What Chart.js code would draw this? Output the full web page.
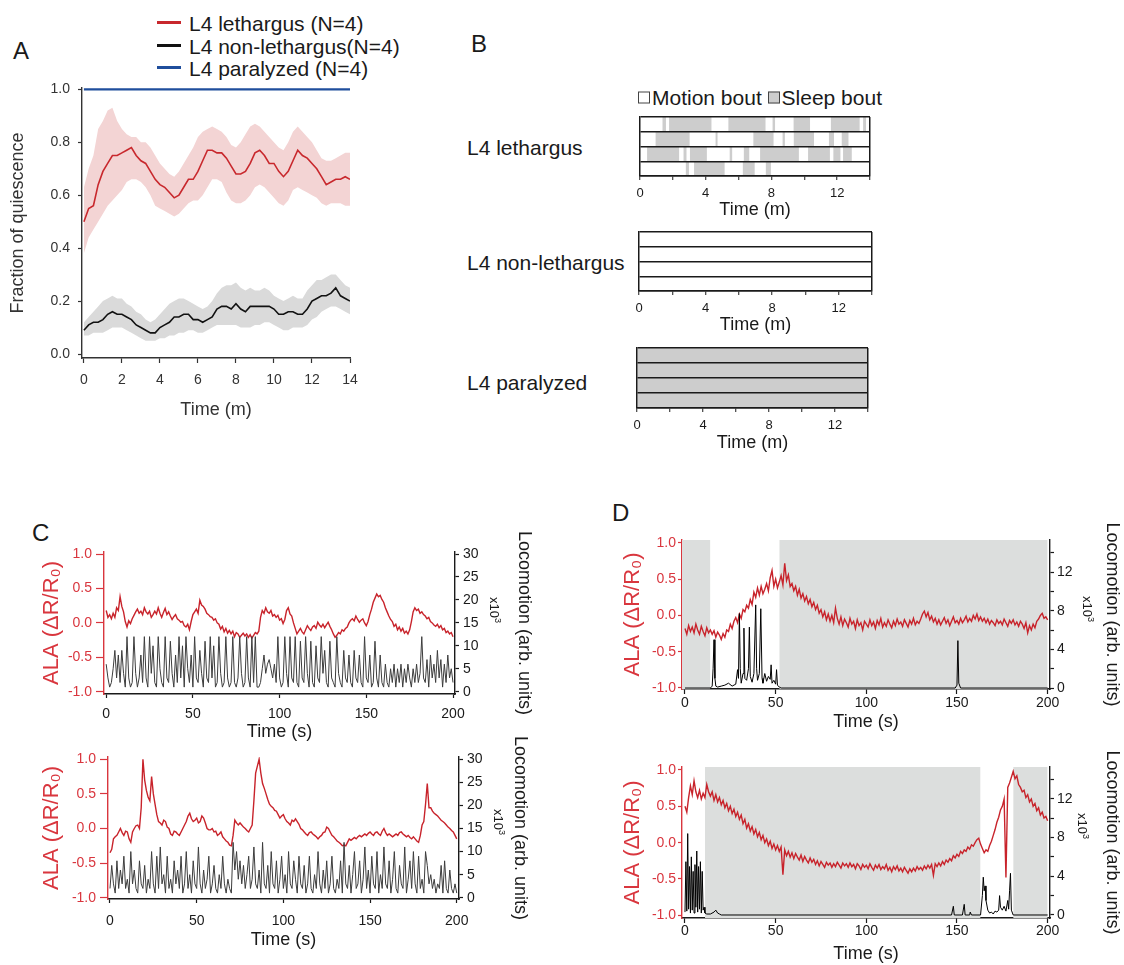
<!DOCTYPE html>
<html lang="en">
  <head>
    <meta charset="UTF-8" />
    <title>Quiescence and ALA activity</title>
    <script src="https://cdn.jsdelivr.net/npm/chart.js@4.4.1/dist/chart.umd.min.js"></script>
    <style>
      body {
        margin: 0;
        background: #fff;
        font-family: "Liberation Sans", Arial, Helvetica, sans-serif;
        color: #1a1a1a;
      }
      #page {
        position: relative;
        width: 1124px;
        height: 965px;
        overflow: hidden;
      }
      canvas {
        position: absolute;
      }
      .t {
        position: absolute;
        white-space: nowrap;
        line-height: 1;
        transform: translateY(-50%);
      }
      .letter {
        font-size: 24px;
      }
      .lbl {
        font-size: 21px;
      }
      .key {
        position: absolute;
        width: 24px;
        height: 0;
        border-top: 3px solid;
      }
      .sq {
        display: inline-block;
        width: 10px;
        height: 10px;
        border: 1px solid #444;
        margin-right: 2px;
        vertical-align: 1px;
      }
      .exp {
        position: absolute;
        font-size: 13px;
        white-space: nowrap;
        line-height: 1;
        transform: translate(-50%, -50%) rotate(90deg);
      }
      .exp sup {
        font-size: 9px;
      }
    </style>
  </head>
  <body>
    <div id="page">
      <!-- panel letters -->
      <div class="t letter" style="left: 13px; top: 51px">A</div>
      <div class="t letter" style="left: 471px; top: 44px">B</div>
      <div class="t letter" style="left: 32px; top: 533px">C</div>
      <div class="t letter" style="left: 612px; top: 513px">D</div>

      <!-- legend A -->
      <div class="key" style="left: 157px; top: 21px; border-color: #c8282d"></div>
      <div class="t lbl" style="left: 189px; top: 23px">L4 lethargus (N=4)</div>
      <div class="key" style="left: 157px; top: 44px; border-color: #111"></div>
      <div class="t lbl" style="left: 189px; top: 46px">L4 non-lethargus(N=4)</div>
      <div class="key" style="left: 157px; top: 66px; border-color: #1f4e9c"></div>
      <div class="t lbl" style="left: 189px; top: 68px">L4 paralyzed (N=4)</div>

      <!-- legend B + row labels -->
      <div class="t lbl" style="left: 638px; top: 97px">
        <span class="sq" style="background: #fff"></span>Motion bout&nbsp;<span class="sq" style="background: #cdcdcd"></span>Sleep bout
      </div>
      <div class="t lbl" style="left: 467px; top: 147px">L4 lethargus</div>
      <div class="t lbl" style="left: 467px; top: 262px">L4 non-lethargus</div>
      <div class="t lbl" style="left: 467px; top: 382px">L4 paralyzed</div>

      <canvas id="chartA" width="400" height="360" style="left: 0; top: 70px"></canvas>
      <canvas id="rasterLeth" width="300" height="112" style="left: 600px; top: 110px"></canvas>
      <canvas id="rasterNon" width="300" height="112" style="left: 600px; top: 225px"></canvas>
      <canvas id="rasterPara" width="300" height="114" style="left: 600px; top: 341px"></canvas>
      <canvas id="chartC1" width="560" height="230" style="left: 0; top: 520px"></canvas>
      <canvas id="chartC2" width="560" height="240" style="left: 0; top: 725px"></canvas>
      <canvas id="chartD1" width="564" height="240" style="left: 560px; top: 510px"></canvas>
      <canvas id="chartD2" width="564" height="225" style="left: 560px; top: 740px"></canvas>

      <div class="exp" style="left: 495px; top: 610px">x10<sup>3</sup></div>
      <div class="exp" style="left: 499px; top: 822px">x10<sup>3</sup></div>
      <div class="exp" style="left: 1088px; top: 609px">x10<sup>3</sup></div>
      <div class="exp" style="left: 1083px; top: 826px">x10<sup>3</sup></div>
    </div>

    <script>
      // ---------- A: fraction of quiescence (time in minutes) ----------
      const aTime = [0, 0.25, 0.5, 0.75, 1, 1.25, 1.5, 1.75, 2, 2.25, 2.5, 2.75, 3, 3.25, 3.5, 3.75, 4, 4.25, 4.5, 4.75,
        5, 5.25, 5.5, 5.75, 6, 6.25, 6.5, 6.75, 7, 7.25, 7.5, 7.75, 8, 8.25, 8.5, 8.75, 9, 9.25, 9.5, 9.75,
        10, 10.25, 10.5, 10.75, 11, 11.25, 11.5, 11.75, 12, 12.25, 12.5, 12.75, 13, 13.25, 13.5, 13.75, 14];
      const lethMean = [0.50, 0.55, 0.56, 0.64, 0.69, 0.72, 0.75, 0.75, 0.76, 0.77, 0.78, 0.75, 0.73, 0.72, 0.69, 0.66, 0.64, 0.63, 0.61, 0.59,
        0.60, 0.63, 0.66, 0.66, 0.69, 0.73, 0.77, 0.77, 0.76, 0.76, 0.74, 0.71, 0.68, 0.68, 0.69, 0.72, 0.76, 0.77, 0.75, 0.72,
        0.72, 0.69, 0.67, 0.69, 0.73, 0.77, 0.75, 0.74, 0.72, 0.70, 0.67, 0.64, 0.65, 0.66, 0.66, 0.67, 0.66];
      const lethUpper = [0.63, 0.70, 0.75, 0.85, 0.88, 0.92, 0.93, 0.88, 0.85, 0.83, 0.82, 0.82, 0.80, 0.80, 0.78, 0.75, 0.72, 0.70, 0.68, 0.67,
        0.69, 0.72, 0.75, 0.78, 0.82, 0.84, 0.85, 0.86, 0.85, 0.84, 0.82, 0.79, 0.78, 0.80, 0.83, 0.86, 0.87, 0.86, 0.84, 0.82,
        0.80, 0.78, 0.77, 0.80, 0.84, 0.86, 0.84, 0.82, 0.80, 0.77, 0.74, 0.73, 0.73, 0.74, 0.75, 0.76, 0.76];
      const lethLower = [0.38, 0.44, 0.47, 0.50, 0.53, 0.56, 0.58, 0.60, 0.62, 0.65, 0.66, 0.66, 0.65, 0.63, 0.60, 0.56, 0.55, 0.54, 0.53, 0.52,
        0.53, 0.55, 0.57, 0.58, 0.58, 0.60, 0.63, 0.66, 0.66, 0.65, 0.61, 0.58, 0.57, 0.57, 0.58, 0.60, 0.63, 0.64, 0.63, 0.61,
        0.59, 0.57, 0.56, 0.58, 0.62, 0.63, 0.62, 0.61, 0.60, 0.59, 0.57, 0.56, 0.57, 0.57, 0.57, 0.56, 0.56];
      const nonMean = [0.09, 0.11, 0.12, 0.12, 0.13, 0.15, 0.16, 0.15, 0.15, 0.14, 0.13, 0.11, 0.10, 0.09, 0.08, 0.08, 0.10, 0.11, 0.12, 0.14,
        0.14, 0.15, 0.15, 0.13, 0.13, 0.12, 0.13, 0.14, 0.17, 0.18, 0.18, 0.17, 0.19, 0.17, 0.16, 0.18, 0.18, 0.18, 0.18, 0.18,
        0.17, 0.15, 0.15, 0.16, 0.16, 0.15, 0.15, 0.17, 0.20, 0.21, 0.22, 0.22, 0.23, 0.25, 0.22, 0.21, 0.20];
      const nonUpper = [0.12, 0.14, 0.16, 0.18, 0.20, 0.21, 0.22, 0.21, 0.21, 0.19, 0.18, 0.16, 0.15, 0.13, 0.12, 0.13, 0.15, 0.17, 0.19, 0.20,
        0.21, 0.21, 0.20, 0.19, 0.18, 0.17, 0.18, 0.20, 0.23, 0.25, 0.26, 0.26, 0.27, 0.25, 0.24, 0.25, 0.24, 0.24, 0.25, 0.24,
        0.22, 0.21, 0.20, 0.21, 0.22, 0.21, 0.21, 0.24, 0.26, 0.28, 0.28, 0.29, 0.30, 0.30, 0.28, 0.26, 0.25];
      const nonLower = [0.07, 0.07, 0.08, 0.08, 0.08, 0.09, 0.10, 0.10, 0.10, 0.09, 0.08, 0.07, 0.06, 0.05, 0.05, 0.05, 0.06, 0.06, 0.07, 0.07,
        0.08, 0.08, 0.09, 0.09, 0.08, 0.08, 0.09, 0.10, 0.11, 0.11, 0.11, 0.11, 0.11, 0.10, 0.10, 0.10, 0.11, 0.11, 0.12, 0.12,
        0.11, 0.10, 0.09, 0.09, 0.10, 0.10, 0.10, 0.11, 0.13, 0.14, 0.16, 0.17, 0.18, 0.18, 0.17, 0.16, 0.15];
      const paraTime = [0, 14];
      const paraMean = [1.0, 1.0];
      const minuteTicks = [0, 2, 4, 6, 8, 10, 12, 14];
      const fractionTicks = [0, 0.2, 0.4, 0.6, 0.8, 1.0];

      // ---------- B: motion / sleep bouts per worm (minutes) ----------
      const rowLabels = ["1", "2", "3", "4"];
      const lethRow1 = [[1.39, 1.56], [1.79, 4.33], [5.40, 7.62], [8.09, 8.20], [9.37, 10.33], [11.64, 13.35], [13.60, 13.74]];
      const lethRow2 = [[0.97, 3.00], [4.62, 4.70], [6.92, 8.11], [8.70, 8.80], [9.38, 10.57], [11.52, 11.79], [12.30, 12.67]];
      const lethRow3 = [[0.45, 2.36], [2.67, 2.81], [3.06, 4.05], [5.48, 5.59], [6.34, 6.63], [7.33, 9.65], [10.25, 11.54], [11.79, 12.18], [12.38, 12.87]];
      const lethRow4 = [[2.81, 2.96], [3.31, 5.13], [6.28, 6.96], [7.68, 7.95]];
      const nonRows = [[], [], [], []];
      const paraRows = [[[0, 14]], [[0, 14]], [[0, 14]], [[0, 14]]];
      const boutTicks = [0, 2, 4, 6, 8, 10, 12, 14];

      // ---------- C / D: ALA imaging and locomotion (seconds) ----------
      const seconds = Array.from({ length: 201 }, (_, i) => i);
      const secTicks = [0, 50, 100, 150, 200];
      const alaTicks = [-1, -0.5, 0, 0.5, 1];
      const locoTicksC = [0, 5, 10, 15, 20, 25, 30];
      const locoTicksD = [0, 2, 4, 6, 8, 10, 12, 14];

      const cTopAla = [
        0.18, 0.08, 0.12, 0.06, 0.14, 0.08, 0.22, 0.18, 0.38, 0.24,
        0.16, 0.02, -0.06, 0.03, -0.01, 0.06, 0.11, 0.16, 0.20, 0.14,
        0.17, 0.12, 0.22, 0.16, 0.13, 0.17, 0.08, 0.12, 0.17, 0.13,
        0.22, 0.14, 0.08, 0.15, 0.21, 0.12, 0.16, 0.10, 0.05, 0.09,
        0.12, 0.06, 0.04, 0.01, 0.02, -0.04, -0.06, -0.02, -0.10, 0.02,
        0.12, 0.16, 0.20, 0.14, 0.33, 0.26, 0.24, 0.20, 0.14, 0.12,
        0.09, 0.08, 0.04, 0.06, 0.00, -0.02, -0.09, -0.05, -0.13, -0.08,
        -0.15, -0.11, -0.16, -0.12, -0.20, -0.14, -0.16, -0.21, -0.18, -0.15,
        -0.19, -0.16, -0.21, -0.17, -0.22, -0.18, -0.14, -0.16, -0.12, 0.08,
        0.18, 0.14, 0.22, 0.16, 0.14, 0.18, 0.10, 0.12, 0.08, 0.11,
        0.04, 0.06, -0.01, 0.05, 0.18, 0.22, 0.13, 0.10, 0.00, -0.08,
        -0.16, -0.12, -0.08, -0.13, -0.16, -0.10, -0.04, -0.08, -0.11, -0.06,
        -0.04, -0.08, 0.01, -0.03, -0.06, -0.02, -0.07, -0.03, 0.01, -0.05,
        -0.10, -0.16, -0.21, -0.18, -0.14, -0.16, -0.10, -0.12, -0.08, -0.06,
        0.00, 0.04, 0.06, 0.03, 0.10, 0.05, 0.01, 0.04, 0.06, 0.00,
        -0.04, 0.02, 0.12, 0.20, 0.30, 0.36, 0.42, 0.38, 0.40, 0.34,
        0.30, 0.22, 0.16, 0.10, 0.05, 0.02, -0.05, -0.02, -0.10, -0.06,
        -0.12, -0.08, -0.15, -0.12, -0.16, -0.10, 0.02, 0.16, 0.22, 0.18,
        0.20, 0.14, 0.16, 0.12, 0.10, 0.06, 0.08, 0.02, 0.00, -0.03,
        -0.05, -0.02, -0.07, -0.04, -0.10, -0.08, -0.14, -0.12, -0.16, -0.14,
        -0.20];
      const cTopLoco = [
        6, 3, 1, 2, 5, 9, 3, 8, 2, 9,
        4, 1, 12, 3, 1, 2, 12, 4, 1, 3,
        8, 2, 12, 3, 1, 12, 4, 10, 2, 1,
        12, 5, 2, 1, 12, 3, 2, 11, 4, 1,
        8, 2, 12, 3, 10, 1, 12, 5, 2, 8,
        1, 12, 3, 2, 9, 4, 1, 11, 3, 2,
        12, 3, 10, 1, 2, 12, 4, 1, 2, 12,
        3, 1, 2, 12, 2, 1, 3, 12, 4, 1,
        2, 12, 3, 1, 12, 2, 12, 1, 1, 2,
        5, 8, 4, 6, 7, 5, 3, 6, 2, 12,
        3, 1, 2, 12, 4, 1, 12, 3, 2, 12,
        2, 1, 11, 3, 2, 12, 4, 1, 11, 2,
        1, 10, 3, 2, 12, 4, 9, 2, 1, 11,
        3, 2, 1, 12, 4, 2, 1, 9, 3, 2,
        8, 2, 1, 9, 3, 2, 8, 2, 1, 12,
        3, 2, 8, 1, 2, 11, 3, 1, 8, 2,
        1, 6, 2, 1, 5, 2, 6, 1, 5, 2,
        6, 1, 5, 2, 6, 3, 1, 5, 2, 6,
        2, 4, 12, 3, 2, 7, 1, 8, 3, 6,
        2, 9, 3, 7, 1, 6, 2, 8, 3, 5,
        2];
      const cBotAla = [
        -0.35, -0.30, -0.15, -0.12, -0.10, -0.05, 0.00, -0.06, -0.10, -0.04,
        -0.05, -0.15, -0.20, -0.05, 0.00, 0.04, 0.05, 0.00, 0.30, 1.00,
        0.70, 0.55, 0.45, 0.40, 0.75, 0.50, 0.35, 0.20, 0.10, 0.08,
        0.05, 0.12, 0.10, 0.02, 0.00, -0.08, -0.10, -0.04, -0.05, -0.08,
        -0.10, -0.05, 0.00, 0.05, 0.10, 0.18, 0.22, 0.14, 0.10, 0.12,
        0.15, 0.08, 0.10, 0.18, 0.15, 0.08, 0.00, -0.02, -0.02, 0.00,
        -0.05, -0.04, -0.10, -0.08, -0.05, -0.12, -0.15, -0.18, -0.20, -0.24,
        -0.25, -0.10, 0.12, 0.08, 0.05, 0.08, 0.05, 0.02, 0.00, -0.03,
        -0.05, 0.00, 0.05, 0.40, 0.80, 0.90, 1.00, 0.80, 0.65, 0.58,
        0.50, 0.42, 0.35, 0.32, 0.30, 0.26, 0.25, 0.20, 0.15, 0.18,
        0.20, 0.14, 0.10, 0.08, 0.05, 0.12, 0.10, 0.14, 0.10, 0.06,
        0.00, -0.02, -0.05, -0.08, -0.10, -0.06, -0.05, -0.08, -0.10, -0.12,
        -0.15, -0.12, -0.10, -0.06, -0.05, 0.02, 0.00, -0.05, -0.10, -0.12,
        -0.15, -0.18, -0.20, -0.22, -0.25, -0.24, -0.25, -0.20, -0.15, -0.17,
        -0.15, -0.13, -0.15, -0.12, -0.10, -0.12, -0.10, -0.08, -0.10, -0.07,
        -0.05, -0.08, -0.10, -0.06, -0.05, -0.08, -0.10, -0.04, 0.00, -0.06,
        -0.10, -0.08, -0.10, -0.12, -0.10, -0.08, -0.10, -0.06, -0.05, -0.08,
        -0.10, -0.12, -0.10, -0.13, -0.15, -0.12, -0.15, -0.18, -0.20, -0.10,
        0.05, 0.10, 0.35, 0.65, 0.30, 0.30, 0.25, 0.22, 0.20, 0.18,
        0.15, 0.12, 0.10, 0.08, 0.05, 0.02, 0.00, -0.03, -0.05, -0.10,
        -0.15];
      const cBotLoco = [
        2, 7, 3, 1, 8, 2, 6, 3, 9, 2,
        4, 1, 10, 3, 6, 2, 1, 8, 3, 2,
        7, 1, 4, 2, 10, 3, 1, 9, 2, 11,
        3, 5, 1, 9, 2, 4, 1, 8, 3, 6,
        2, 9, 1, 3, 10, 2, 5, 1, 8, 3,
        2, 11, 3, 1, 6, 2, 4, 9, 1, 3,
        7, 2, 1, 5, 2, 9, 3, 1, 4, 2,
        1, 12, 6, 10, 4, 8, 3, 7, 2, 5,
        9, 2, 4, 11, 3, 2, 6, 1, 12, 3,
        2, 7, 1, 10, 3, 2, 8, 1, 4, 9,
        2, 5, 1, 10, 3, 2, 8, 4, 1, 9,
        3, 2, 7, 1, 3, 9, 2, 1, 5, 2,
        10, 3, 1, 6, 2, 8, 1, 3, 9, 2,
        1, 4, 2, 8, 1, 12, 3, 2, 7, 1,
        5, 10, 2, 3, 8, 1, 4, 11, 2, 6,
        1, 9, 3, 2, 10, 1, 5, 2, 11, 3,
        2, 8, 1, 4, 10, 2, 1, 7, 3, 2,
        11, 1, 4, 8, 2, 10, 3, 1, 9, 2,
        4, 1, 10, 7, 3, 5, 2, 4, 1, 3,
        2, 7, 1, 8, 2, 1, 6, 2, 1, 3,
        1];
      const dTopAla = [
        -0.18, -0.26, -0.14, -0.22, -0.16, -0.24, -0.12, -0.20, -0.26, -0.15,
        -0.22, -0.28, -0.17, -0.24, -0.20, -0.26, -0.21, -0.30, -0.23, -0.27,
        -0.33, -0.25, -0.30, -0.20, -0.22, -0.12, -0.18, -0.08, -0.03, -0.10,
        0.02, -0.04, 0.08, 0.05, 0.14, 0.10, 0.22, 0.15, 0.32, 0.25,
        0.38, 0.28, 0.40, 0.30, 0.36, 0.44, 0.34, 0.52, 0.62, 0.40,
        0.50, 0.38, 0.46, 0.55, 0.42, 0.72, 0.48, 0.56, 0.40, 0.44,
        0.34, 0.40, 0.28, 0.36, 0.24, 0.30, 0.20, 0.26, 0.16, 0.22,
        0.12, 0.18, 0.08, 0.14, 0.03, 0.08, -0.02, 0.05, -0.06, 0.02,
        -0.08, 0.00, -0.10, 0.10, -0.04, -0.12, -0.02, -0.14, -0.05, -0.10,
        -0.16, -0.04, -0.12, -0.08, -0.18, -0.06, -0.14, -0.10, -0.20, -0.08,
        -0.12, -0.16, -0.06, -0.14, -0.09, -0.18, -0.07, -0.13, -0.04, -0.16,
        -0.10, -0.15, -0.06, -0.12, -0.17, -0.08, -0.14, -0.05, -0.12, -0.09,
        -0.15, -0.06, -0.11, -0.16, -0.07, -0.12, -0.04, -0.13, -0.08, -0.11,
        -0.05, 0.02, 0.06, -0.02, 0.04, -0.06, -0.01, -0.09, -0.04, -0.12,
        -0.06, -0.13, -0.08, -0.03, -0.11, -0.06, -0.14, -0.08, -0.02, -0.10,
        -0.07, -0.12, -0.04, -0.10, -0.06, -0.01, -0.09, -0.04, -0.08, 0.00,
        -0.05, 0.02, -0.07, -0.02, -0.08, -0.04, -0.10, -0.05, -0.12, -0.07,
        -0.10, -0.14, -0.06, -0.11, -0.08, -0.13, -0.05, -0.10, -0.15, -0.07,
        -0.11, -0.06, -0.13, -0.09, -0.15, -0.08, -0.12, -0.18, -0.10, -0.24,
        -0.14, -0.20, -0.12, -0.17, -0.08, -0.05, 0.00, 0.03, -0.04, -0.02,
        -0.06];
      const dTopLocoT = [0, 14, 15, 15.5, 16, 16.5, 17, 18, 20, 22, 24, 26, 28, 29, 29.5, 30, 30.5, 31, 32, 32.5,
        33, 34, 35, 35.5, 36, 37, 38, 39, 39.5, 40, 41, 41.8, 42.5, 43, 44, 45, 46, 47, 47.5, 48,
        49, 50, 50.5, 51, 52, 53, 149, 150, 150.5, 151, 152, 200];
      const dTopLocoV = [0, 0, 0.2, 2, 5, 1, 0.2, 0.1, 0.2, 0.3, 0.5, 0.2, 0.4, 1.9, 1, 7.7, 2, 0.5, 1.5, 6.2,
        1, 0.8, 2, 6.3, 1.2, 0.6, 1.5, 8.6, 2, 0.8, 1.5, 8.2, 1, 0.5, 1.5, 0.7, 1.2, 0.9, 2.4, 0.5,
        0.8, 0.4, 1.9, 0.3, 0.1, 0, 0, 0.3, 4.9, 0.5, 0, 0];
      const dTopSleepStart = [-1.65, 52];
      const dTopSleepEnd = [14, 200];

      const dBotAla = [
        0.50, 0.42, 0.62, 0.78, 0.66, 0.85, 0.70, 0.62, 0.72, 0.60,
        0.68, 0.62, 0.80, 0.70, 0.64, 0.70, 0.58, 0.66, 0.56, 0.62,
        0.52, 0.58, 0.48, 0.54, 0.44, 0.50, 0.40, 0.46, 0.36, 0.42,
        0.32, 0.38, 0.26, 0.32, 0.20, 0.26, 0.16, 0.22, 0.12, 0.18,
        0.08, 0.14, 0.04, 0.10, 0.00, 0.05, -0.04, 0.02, -0.08, -0.02,
        -0.10, -0.04, -0.12, -0.06, -0.44, -0.10, -0.18, -0.12, -0.20, -0.14,
        -0.22, -0.15, -0.20, -0.24, -0.17, -0.26, -0.19, -0.24, -0.28, -0.21,
        -0.27, -0.23, -0.30, -0.25, -0.32, -0.26, -0.30, -0.34, -0.27, -0.31,
        -0.28, -0.34, -0.29, -0.33, -0.27, -0.31, -0.35, -0.28, -0.32, -0.29,
        -0.34, -0.28, -0.33, -0.30, -0.36, -0.29, -0.32, -0.37, -0.30, -0.34,
        -0.31, -0.36, -0.29, -0.34, -0.38, -0.31, -0.35, -0.30, -0.37, -0.33,
        -0.36, -0.30, -0.38, -0.34, -0.40, -0.33, -0.37, -0.32, -0.39, -0.35,
        -0.40, -0.34, -0.38, -0.42, -0.36, -0.40, -0.35, -0.39, -0.33, -0.37,
        -0.34, -0.38, -0.32, -0.36, -0.31, -0.35, -0.30, -0.45, -0.29, -0.33,
        -0.28, -0.32, -0.26, -0.30, -0.24, -0.27, -0.22, -0.25, -0.18, -0.21,
        -0.16, -0.19, -0.12, -0.15, -0.10, -0.12, -0.06, -0.09, -0.03, -0.05,
        0.00, 0.04, 0.06, -0.02, -0.08, -0.14, -0.10, -0.12, -0.04, 0.02,
        0.10, 0.18, 0.28, 0.35, 0.45, 0.50, 0.60, -0.48, 0.76, 0.82,
        0.90, 0.98, 0.88, 0.92, 0.80, 0.76, 0.70, 0.72, 0.62, 0.66,
        0.56, 0.60, 0.50, 0.54, 0.44, 0.48, 0.38, 0.42, 0.34, 0.36,
        0.30];
      const dBotLocoT = [0, 0.5, 1, 1.5, 2, 2.5, 3, 3.5, 4, 4.5, 5, 5.5, 6, 6.5, 7, 7.5, 8, 8.5, 9, 9.5,
        10, 10.5, 11, 12, 14, 16, 17, 18, 19, 20, 147, 148, 148.5, 153, 154, 154.5, 157, 157.3, 158, 163,
        164, 164.5, 165, 165.5, 166, 167, 168, 169, 170, 171, 172, 173, 173.5, 174, 175, 176, 177, 178, 178.5, 179,
        179.5, 180, 181, 200];
      const dBotLocoV = [0.3, 5.5, 0.4, 8.4, 0.6, 5, 0.2, 6, 0.5, 4.5, 0.2, 5.2, 0.8, 6.6, 0.3, 5, 0.6, 5.5, 0.2, 4.5,
        0.5, 0.8, 0.2, 0.1, 0.1, 0.3, 0.5, 0.2, 0.1, 0, 0, 0.9, 0, 0, 1.1, 0, 0, 0.3, 0, 0,
        2, 3.9, 2.5, 3, 1.5, 0.5, 0.2, 0.3, 0.1, 0.4, 0.3, 0.5, 2.0, 0.8, 0.5, 0.9, 0.4, 1.5, 0.6, 2.5,
        4.3, 0.5, 0, 0];
      const dBotSleepStart = [11, 181];
      const dBotSleepEnd = [163, 200];

      // ---------- setup ----------
      Chart.defaults.font.family = '"Liberation Sans", Arial, Helvetica, sans-serif';
      Chart.defaults.color = "#1a1a1a";
      Chart.defaults.animation = false;
      Chart.defaults.responsive = false;
      Chart.defaults.events = [];
      Chart.defaults.plugins.legend.display = false;
      Chart.defaults.plugins.tooltip.enabled = false;
      Chart.defaults.elements.point.radius = 0;
      Chart.defaults.elements.line.tension = 0;

      const RED = "#c8232b";
      const AXIS_RED = "#d9363e";
      const INK = "#1a1a1a";
      const SLEEP = "#cdcdcd";
      const SHADE = "#dcdedd";

      const el = (id) => document.getElementById(id);
      const pts = (xs, ys) => ys.map((y, i) => ({ x: xs[i], y: y }));
      const oneDec = (v) => Number(v).toFixed(1);

      // linear axis with explicit ticks and a fixed size
      function axis(o) {
        const col = o.color || INK;
        return {
          type: "linear",
          position: o.pos,
          min: o.min,
          max: o.max,
          afterBuildTicks: (s) => {
            s.ticks = o.ticks.map((v) => ({ value: v }));
          },
          afterFit: (s) => {
            if (s.isHorizontal()) s.height = o.size;
            else s.width = o.size;
          },
          border: { color: col, width: 1.4 },
          grid: { drawOnChartArea: false, tickLength: o.tl || 4, tickColor: col, tickWidth: 1.2 },
          ticks: {
            font: { size: o.fs || 14 },
            color: col,
            padding: o.pad,
            autoSkip: false,
            maxRotation: 0,
            callback: o.fmt || ((v) => v),
          },
          title: {
            display: true,
            text: o.title,
            font: { size: o.tfs || 18 },
            color: col,
            padding: o.tpad,
          },
        };
      }

      // ---------- A ----------
      new Chart(el("chartA"), {
        type: "line",
        data: {
          datasets: [
            { data: pts(aTime, lethMean), borderColor: "#c8282d", borderWidth: 1.6, order: 1 },
            { data: pts(aTime, nonMean), borderColor: "#111", borderWidth: 1.6, order: 1 },
            { data: pts(paraTime, paraMean), borderColor: "#1f4e9c", borderWidth: 2.2, order: 1 },
            { data: pts(aTime, lethUpper), borderWidth: 0, fill: "+1", backgroundColor: "#f3d4d4", order: 5 },
            { data: pts(aTime, lethLower), borderWidth: 0, order: 5 },
            { data: pts(aTime, nonUpper), borderWidth: 0, fill: "+1", backgroundColor: "#dadada", order: 5 },
            { data: pts(aTime, nonLower), borderWidth: 0, order: 5 },
          ],
        },
        options: {
          layout: { padding: { top: 18, right: 50 } },
          scales: {
            x: axis({ pos: "bottom", min: -0.1, max: 14, ticks: minuteTicks, size: 72, tl: 5, pad: 9,
              title: "Time (m)", tpad: { bottom: 9 }, color: "#333" }),
            y: axis({ pos: "left", min: -0.015, max: 1.005, ticks: fractionTicks, size: 82, tl: 4, pad: 8,
              fmt: oneDec, title: "Fraction of quiescence", tpad: { top: 7 }, color: "#333" }),
          },
        },
      });

      // ---------- B ----------
      function raster(id, rows, o) {
        const n = rows.reduce((m, r) => Math.max(m, r.length), 0);
        const datasets = [];
        for (let k = 0; k < n; k++) {
          datasets.push({
            data: rows.map((r) => r[k] || null),
            backgroundColor: SLEEP,
            borderWidth: 0,
            barPercentage: 1,
            categoryPercentage: 1,
            grouped: false,
          });
        }
        return new Chart(el(id), {
          type: "bar",
          data: { labels: rowLabels, datasets },
          options: {
            indexAxis: "y",
            layout: { padding: { left: o.left, right: o.right, top: o.top } },
            scales: {
              x: {
                type: "linear",
                min: 0,
                max: 14,
                afterBuildTicks: (s) => {
                  s.ticks = boutTicks.map((v) => ({ value: v }));
                },
                afterFit: (s) => {
                  s.height = o.xh;
                },
                border: { color: INK, width: 1.5, z: 1 },
                grid: {
                  z: 1,
                  color: (c) => (c.tick && c.tick.value === 14 ? INK : "rgba(0,0,0,0)"),
                  lineWidth: 1.5,
                  tickColor: INK,
                  tickLength: 4,
                  tickWidth: 1,
                },
                ticks: {
                  font: { size: 13 },
                  padding: o.pad,
                  autoSkip: false,
                  maxRotation: 0,
                  callback: (v) => (v % 4 === 0 ? v : ""),
                },
                title: { display: true, text: "Time (m)", font: { size: 18 }, padding: { bottom: o.tpad } },
              },
              y: {
                type: "category",
                offset: true,
                afterFit: (s) => {
                  s.width = 0;
                },
                border: { color: INK, width: 1.5, z: 1 },
                grid: { z: 1, offset: true, color: INK, lineWidth: 1.5, drawTicks: false },
                ticks: { display: false },
              },
            },
          },
        });
      }

      raster("rasterLeth", [lethRow1, lethRow2, lethRow3, lethRow4], { left: 40, right: 30, top: 7, xh: 46, pad: 6, tpad: 1 });
      raster("rasterNon", nonRows, { left: 39, right: 28, top: 7, xh: 46, pad: 6, tpad: 1 });
      raster("rasterPara", paraRows, { left: 37, right: 32, top: 7, xh: 47, pad: 6, tpad: 1 });

      // ---------- C / D ----------
      function traceChart(id, o) {
        const datasets = [];
        (o.sleepStart || []).forEach((s, i) => {
          datasets.push({
            data: [{ x: s, y: o.alaMax }, { x: o.sleepEnd[i], y: o.alaMax }],
            yAxisID: "ala",
            borderWidth: 0,
            fill: "start",
            backgroundColor: SHADE,
            order: 3,
          });
        });
        datasets.push({ data: o.ala, yAxisID: "ala", borderColor: RED, borderWidth: 1.4, order: 2 });
        datasets.push({ data: o.loco, yAxisID: "loco", borderColor: o.locoColor, borderWidth: 1, order: 1 });
        return new Chart(el(id), {
          type: "line",
          data: { datasets },
          options: {
            layout: { padding: { top: o.top } },
            scales: {
              x: axis({ pos: "bottom", min: o.xMin, max: o.xMax, ticks: secTicks, size: o.xh, tl: o.xtl, pad: o.xpad,
                title: "Time (s)", tpad: { bottom: o.xtpad } }),
              ala: axis({ pos: "left", min: o.alaMin, max: o.alaMax, ticks: alaTicks, size: o.lw, tl: o.ltl, pad: o.lpad,
                fmt: oneDec, color: AXIS_RED, title: "ALA (\u0394R/R\u2080)", tfs: 22, tpad: { top: o.ltpad } }),
              loco: axis({ pos: "right", min: o.locoMin, max: o.locoMax, ticks: o.locoTicks, size: o.rw, pad: o.rpad,
                fmt: o.locoFmt, title: "Locomotion (arb. units)", tpad: { top: o.rtpad } }),
            },
          },
        });
      }

      traceChart("chartC1", {
        top: 32, xMin: -1.27, xMax: 201.15, xh: 56, xtl: 4, xpad: 8, xtpad: 7,
        alaMin: -1.033, alaMax: 1.03, lw: 104, ltl: 8, lpad: 4, ltpad: 39,
        locoMin: -0.5, locoMax: 30.44, locoTicks: locoTicksC, rw: 105, rpad: 4, rtpad: 25,
        ala: pts(seconds, cTopAla), loco: pts(seconds, cTopLoco), locoColor: "#3c3c3c",
      });
      traceChart("chartC2", {
        top: 32, xMin: -1.15, xMax: 201.3, xh: 66, xtl: 4, xpad: 10, xtpad: 14,
        alaMin: -1.019, alaMax: 1.033, lw: 108, ltl: 8, lpad: 4, ltpad: 39,
        locoMin: -0.28, locoMax: 30.5, locoTicks: locoTicksC, rw: 101, rpad: 4, rtpad: 29,
        ala: pts(seconds, cBotAla), loco: pts(seconds, cBotLoco), locoColor: "#3c3c3c",
      });
      const everyFourth = (v) => (v % 4 === 0 ? v : "");
      traceChart("chartD1", {
        top: 30, xMin: -1.65, xMax: 201.3, xh: 61, xtl: 5, xpad: 1, xtpad: 17,
        alaMin: -1.014, alaMax: 1.04, lw: 122, ltl: 4, lpad: 2, ltpad: 60,
        locoMin: -0.1, locoMax: 15.31, locoTicks: locoTicksD, locoFmt: everyFourth, rw: 74, rpad: 3, rtpad: 1,
        sleepStart: dTopSleepStart, sleepEnd: dTopSleepEnd,
        ala: pts(seconds, dTopAla), loco: pts(dTopLocoT, dTopLocoV), locoColor: "#000",
      });
      traceChart("chartD2", {
        top: 27, xMin: -1.65, xMax: 201.3, xh: 47, xtl: 5, xpad: 0, xtpad: 0,
        alaMin: -1.037, alaMax: 1.041, lw: 122, ltl: 4, lpad: 2, ltpad: 60,
        locoMin: -0.31, locoMax: 15.27, locoTicks: locoTicksD, locoFmt: everyFourth, rw: 74, rpad: 3, rtpad: 1,
        sleepStart: dBotSleepStart, sleepEnd: dBotSleepEnd,
        ala: pts(seconds, dBotAla), loco: pts(dBotLocoT, dBotLocoV), locoColor: "#000",
      });
    </script>
  </body>
</html>
